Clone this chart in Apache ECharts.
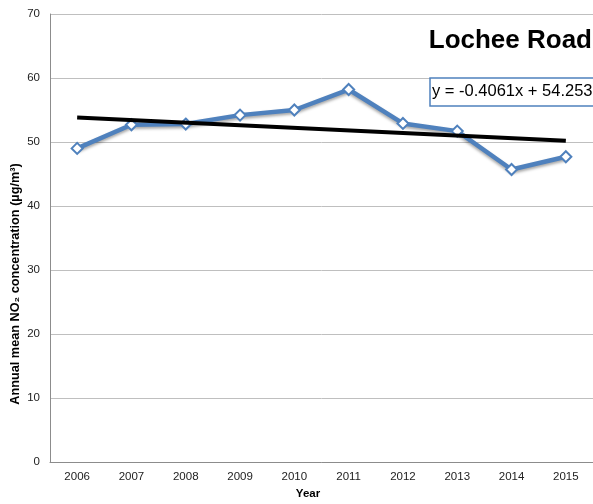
<!DOCTYPE html>
<html><head><meta charset="utf-8">
<script src="https://cdn.jsdelivr.net/npm/echarts@6/dist/echarts.min.js"></script>
<style>html,body{margin:0;padding:0;background:#fff}#c{width:593px;height:504px}</style>
</head><body><div id="c"></div>
<script>
const years = ['2006','2007','2008','2009','2010','2011','2012','2013','2014','2015'];
const no2 = [49.0, 52.7, 52.8, 54.2, 55.0, 58.2, 52.9, 51.7, 45.7, 47.7];
const trendSlope = -0.4061;
const trendIntercept = 54.253;
const yTicks = [0, 10, 20, 30, 40, 50, 60, 70];
const titleText = 'Lochee Road';
const equationText = 'y = -0.4061x + 54.253';

const trend = years.map((y, i) => (i === 0 || i === years.length - 1) ? +(trendSlope * (i + 1) + trendIntercept).toFixed(3) : null);

const chart = echarts.init(document.getElementById('c'));
chart.setOption({
  animation: false,
  grid: { left: 50, right: -1, top: 14, bottom: 42, containLabel: false },
  xAxis: {
    type: 'category', data: years, boundaryGap: true,
    axisLine: { lineStyle: { color: '#8c8c8c', width: 1 } },
    axisTick: { show: false },
    axisLabel: { color: '#222', fontFamily: 'Liberation Sans, Arial', fontSize: 11.5, margin: 9 }
  },
  yAxis: {
    type: 'value', min: yTicks[0], max: yTicks[yTicks.length - 1], interval: 10,
    axisLine: { show: true, lineStyle: { color: '#8c8c8c', width: 1 } },
    axisTick: { show: false },
    splitLine: { lineStyle: { color: '#bfbfbf', width: 1 } },
    axisLabel: { color: '#222', fontFamily: 'Liberation Sans, Arial', fontSize: 11.5, margin: 10 }
  },
  graphic: [
    { type: 'text', right: 1, top: 28, style: { text: titleText, font: 'bold 26px "Liberation Sans", Arial', fill: '#000' } },
    { type: 'rect', shape: { x: 430, y: 78, width: 170, height: 28 }, style: { fill: '#fff', stroke: '#4F81BD', lineWidth: 1.5 }, z: 100 },
    { type: 'text', x: 432, y: 83, style: { text: equationText, font: '16.5px "Liberation Sans", Arial', fill: '#000' }, z: 101 },
    { type: 'text', x: 15, y: 284, rotation: Math.PI / 2, style: { text: 'Annual mean NO₂ concentration (µg/m³)', font: 'bold 12.7px "Liberation Sans", Arial', fill: '#000', align: 'center', verticalAlign: 'middle' } },
    { type: 'text', x: 308, y: 494, style: { text: 'Year', font: 'bold 11.5px "Liberation Sans", Arial', fill: '#000', align: 'center', verticalAlign: 'middle' } }
  ],
  series: [
    {
      type: 'line', data: no2, z: 3,
      symbol: 'diamond', symbolSize: 11,
      lineStyle: { color: '#4F81BD', width: 4.5, shadowColor: 'rgba(0,0,0,0.35)', shadowBlur: 3, shadowOffsetY: 2 },
      itemStyle: { color: '#fff', borderColor: '#4F81BD', borderWidth: 2 }
    },
    {
      type: 'line', data: trend, connectNulls: true, z: 4,
      symbol: 'none',
      lineStyle: { color: '#000', width: 4 }
    }
  ]
});
</script></body></html>
